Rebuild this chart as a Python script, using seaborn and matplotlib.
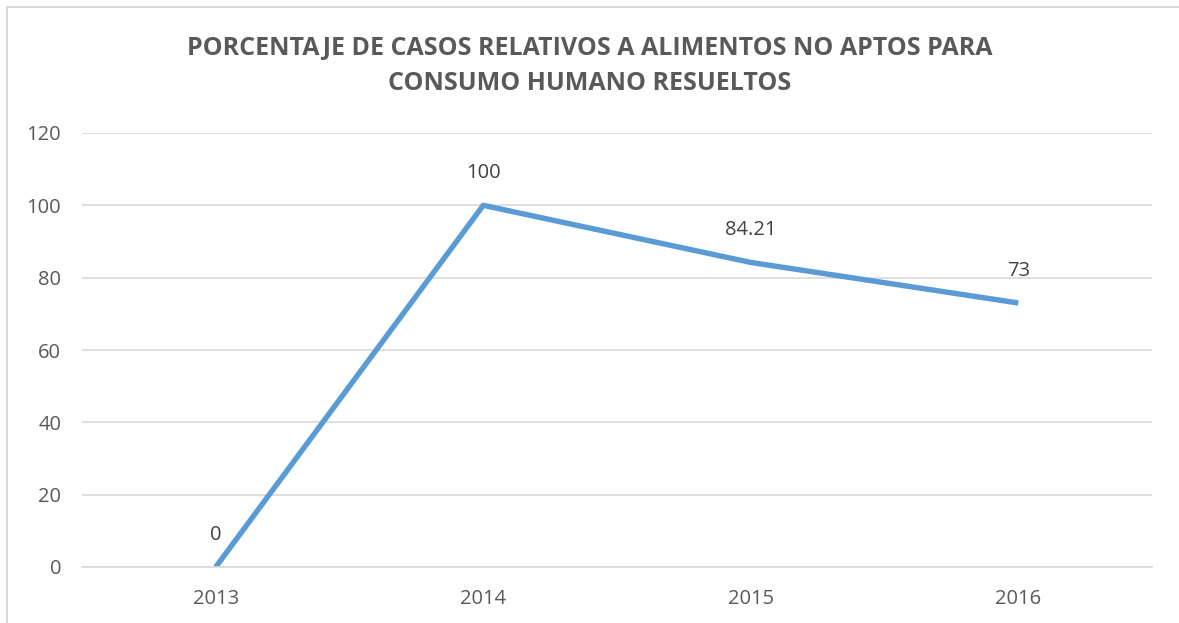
import matplotlib
matplotlib.use("Agg")
import matplotlib.pyplot as plt
import seaborn as sns
import pandas as pd
from matplotlib.patches import Rectangle

# datos del gráfico
anios = ["2013", "2014", "2015", "2016"]
porcentajes = [0, 100, 84.21, 73]
etiquetas = ["0", "100", "84.21", "73"]

sns.set_theme(style="white")
plt.rcParams['font.family'] = ['Open Sans', 'DejaVu Sans']

df = pd.DataFrame({"Año": anios, "Porcentaje": porcentajes})

fig = plt.figure(figsize=(11.79, 6.23), dpi=100)
ax = fig.add_axes([82 / 1179, 1 - 567 / 623, 1070 / 1179, 434 / 623])

# marco del gráfico
fig.patches.append(Rectangle((7 / 1179, -0.1), 1.2, 1 - 7 / 623 + 0.1,
                             transform=fig.transFigure, fill=False,
                             edgecolor="#D9D9D9", linewidth=1.5))

sns.lineplot(data=df, x="Año", y="Porcentaje", ax=ax, color="#5B9BD5",
             linewidth=3.9, sort=False, solid_capstyle="butt")

for i, (v, t) in enumerate(zip(porcentajes, etiquetas)):
    ax.annotate(t, (i, v), xytext=(0, 23), textcoords="offset points",
                ha="center", va="center", fontsize=14.5, color="#404040")

ax.set_xlim(-0.5, 3.5)
ax.set_ylim(0, 120)
ax.set_yticks(range(0, 121, 20))
ax.yaxis.grid(True, color="#D9D9D9", linewidth=1.2)
ax.set_axisbelow(True)
for s in ["top", "right", "left"]:
    ax.spines[s].set_visible(False)
ax.spines["bottom"].set_color("#D9D9D9")
ax.spines["bottom"].set_linewidth(1.2)
ax.tick_params(axis="y", length=0, pad=15, labelsize=14.5, labelcolor="#595959")
ax.tick_params(axis="x", length=0, pad=16, labelsize=14.5, labelcolor="#595959")
ax.set_xlabel("")
ax.set_ylabel("")

fig.text(0.5, 1 - 48 / 623, "PORCENTAJE DE CASOS RELATIVOS A ALIMENTOS NO APTOS PARA",
         ha="center", va="center", fontsize=18, fontweight="bold", color="#595959")
fig.text(0.5, 1 - 84 / 623, "CONSUMO HUMANO RESUELTOS",
         ha="center", va="center", fontsize=18, fontweight="bold", color="#595959")

fig.savefig("out.png", dpi=100)
